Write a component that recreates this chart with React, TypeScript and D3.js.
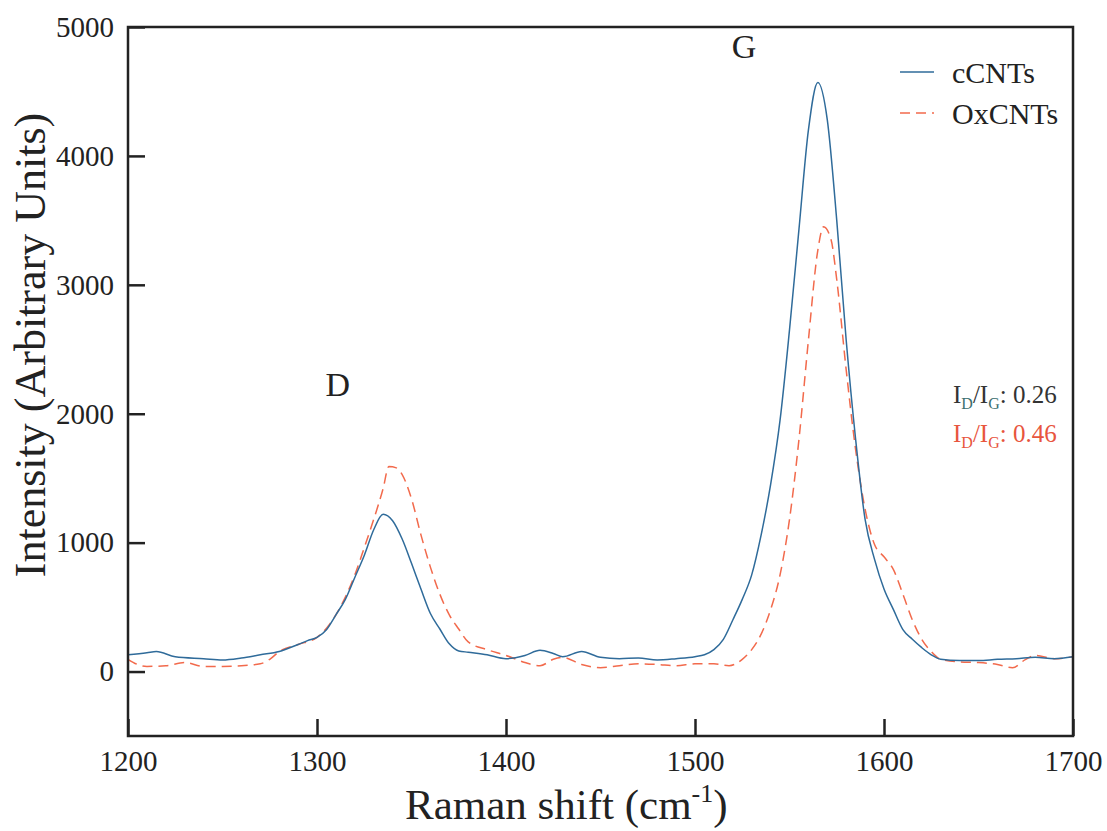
import React, { useEffect, useRef } from 'react';
import * as d3 from 'd3';

// Raman shift (cm-1) vs intensity
const cCNTsShift = [1200, 1210, 1215, 1225, 1240, 1250, 1260, 1270, 1280, 1290, 1295, 1300, 1305, 1310, 1315, 1320, 1325, 1330, 1335, 1340, 1345, 1350, 1355, 1360, 1365, 1370, 1375, 1380, 1390, 1400, 1410, 1418, 1425, 1430, 1440, 1450, 1460, 1470, 1480, 1490, 1500, 1505, 1510, 1515, 1520, 1525, 1530, 1535, 1540, 1545, 1550, 1555, 1560, 1565, 1570, 1575, 1580, 1585, 1590, 1595, 1600, 1605, 1610, 1615, 1620, 1625, 1630, 1640, 1650, 1660, 1670, 1680, 1690, 1700];
const cCNTsIntensity = [130, 145, 155, 115, 100, 90, 105, 130, 155, 210, 240, 265, 325, 440, 560, 730, 900, 1100, 1220, 1170, 1030, 840, 640, 450, 330, 215, 160, 150, 130, 100, 125, 165, 140, 115, 155, 110, 100, 105, 90, 100, 115, 130, 170, 250, 400, 560, 750, 1060, 1450, 1950, 2650, 3430, 4200, 4570, 4280, 3500, 2570, 1800, 1180, 870, 640, 480, 325, 250, 185, 130, 95, 85, 85, 95, 100, 110, 100, 115];

const oxShift = [1200, 1205, 1210, 1220, 1230, 1240, 1250, 1260, 1270, 1275, 1280, 1290, 1300, 1310, 1320, 1325, 1330, 1335, 1338, 1342, 1345, 1350, 1355, 1360, 1365, 1370, 1375, 1380, 1390, 1400, 1410, 1418, 1425, 1430, 1440, 1450, 1460, 1470, 1480, 1490, 1500, 1510, 1518, 1525, 1530, 1535, 1540, 1545, 1550, 1555, 1560, 1565, 1568, 1572, 1575, 1580, 1585, 1590, 1595, 1600, 1605, 1610, 1615, 1620, 1625, 1630, 1640, 1650, 1660, 1668, 1675, 1680, 1690, 1700];
const oxIntensity = [95, 55, 40, 45, 70, 40, 40, 45, 60, 95, 155, 210, 265, 440, 750, 960, 1180, 1420, 1590, 1580, 1530, 1340, 1060, 810, 600, 440, 330, 230, 170, 125, 70, 45, 95, 110, 55, 30, 45, 60, 55, 45, 60, 60, 45, 95, 170, 290, 480, 750, 1180, 1800, 2570, 3270, 3450, 3350, 3040, 2340, 1720, 1260, 985, 890, 790, 600, 400, 250, 155, 95, 75, 70, 55, 30, 95, 125, 100, 115];

const xTicks = [1200, 1300, 1400, 1500, 1600, 1700];
const yTicks = [0, 1000, 2000, 3000, 4000, 5000];

const W = 1107, H = 831;
const margin = { top: 27, right: 34, bottom: 95, left: 128 };
const font = '"Liberation Serif", "Times New Roman", serif';
const ink = '#222';
const blue = '#2f6b9a';
const red = '#f26a4c';

export default function App() {
  const ref = useRef<SVGSVGElement>(null);

  useEffect(() => {
    const svg = d3.select(ref.current);
    svg.selectAll('*').remove();
    const iw = W - margin.left - margin.right;
    const ih = H - margin.top - margin.bottom;

    const x = d3.scaleLinear().domain([1200, 1700]).range([0, iw]);
    const y = d3.scaleLinear().domain([-500, 5000]).range([ih, 0]);

    const g = svg.append('g').attr('transform', `translate(${margin.left},${margin.top})`);

    const line = d3.line<[number, number]>()
      .x(d => x(d[0]))
      .y(d => y(d[1]))
      .curve(d3.curveMonotoneX);

    g.append('path')
      .datum(oxShift.map((v, i) => [v, oxIntensity[i]] as [number, number]))
      .attr('fill', 'none')
      .attr('stroke', red)
      .attr('stroke-width', 1.5)
      .attr('stroke-dasharray', '10,6')
      .attr('d', line);

    g.append('path')
      .datum(cCNTsShift.map((v, i) => [v, cCNTsIntensity[i]] as [number, number]))
      .attr('fill', 'none')
      .attr('stroke', blue)
      .attr('stroke-width', 1.5)
      .attr('d', line);

    // frame
    g.append('rect')
      .attr('width', iw).attr('height', ih)
      .attr('fill', 'none').attr('stroke', ink).attr('stroke-width', 2.5);

    // x axis, ticks inside
    const xAxis = g.append('g').attr('transform', `translate(0,${ih})`).attr('font-family', font);
    xAxis.call(d3.axisBottom(x).tickValues(d3.range(1250, 1700, 100)).tickSize(-9).tickFormat(() => ''));
    xAxis.call(d3.axisBottom(x).tickValues(xTicks).tickSize(-17).tickPadding(14).tickFormat(d3.format('d')));
    xAxis.select('.domain').remove();
    xAxis.selectAll('line').attr('stroke', ink).attr('stroke-width', 2.5);
    xAxis.selectAll('text').attr('font-family', font).attr('font-size', 29).attr('fill', ink);

    const yAxis = g.append('g').attr('font-family', font);
    yAxis.call(d3.axisLeft(y).tickValues(d3.range(500, 5000, 1000)).tickSize(-9).tickFormat(() => ''));
    yAxis.call(d3.axisLeft(y).tickValues(yTicks).tickSize(-17).tickPadding(14).tickFormat(d3.format('d')));
    yAxis.select('.domain').remove();
    yAxis.selectAll('line').attr('stroke', ink).attr('stroke-width', 2.5);
    yAxis.selectAll('text').attr('font-family', font).attr('font-size', 29).attr('fill', ink);

    // axis titles
    const xt = svg.append('text')
      .attr('x', 405).attr('y', 819)
      .attr('font-family', font).attr('font-size', 43).attr('fill', ink);
    xt.append('tspan').text('Raman shift (cm');
    xt.append('tspan').attr('font-size', 26).attr('dy', -17).text('-1');
    xt.append('tspan').attr('dy', 17).text(')');

    svg.append('text')
      .attr('transform', `translate(45,345) rotate(-90)`)
      .attr('text-anchor', 'middle')
      .attr('font-family', font).attr('font-size', 44).attr('fill', ink)
      .text('Intensity (Arbitrary Units)');

    // peak labels
    g.append('text').attr('x', x(1526)).attr('y', y(4760))
      .attr('text-anchor', 'middle').attr('font-family', font).attr('font-size', 34).attr('fill', ink).text('G');
    g.append('text').attr('x', x(1311)).attr('y', y(2140))
      .attr('text-anchor', 'middle').attr('font-family', font).attr('font-size', 34).attr('fill', ink).text('D');

    // legend
    const legend = [
      { name: 'cCNTs', color: blue, dash: null },
      { name: 'OxCNTs', color: red, dash: '10,6' },
    ];
    legend.forEach((d, i) => {
      const ly = 45 + i * 41;
      g.append('line')
        .attr('x1', 772).attr('x2', 806).attr('y1', ly).attr('y2', ly)
        .attr('stroke', d.color).attr('stroke-width', 1.5)
        .attr('stroke-dasharray', d.dash);
      g.append('text').attr('x', 824).attr('y', ly + 11)
        .attr('font-family', font).attr('font-size', 30).attr('fill', ink).text(d.name);
    });

    // ratio annotations
    const ratios = [
      { value: '0.26', color: '#333', sub: '#3b6f70' },
      { value: '0.46', color: '#e8553d', sub: '#e8553d' },
    ];
    ratios.forEach((r, i) => {
      const t = g.append('text').attr('x', 825).attr('y', 376 + i * 39)
        .attr('font-family', font).attr('font-size', 25).attr('fill', r.color);
      t.append('tspan').text('I');
      t.append('tspan').attr('font-size', 16).attr('dy', 6).attr('fill', r.sub).text('D');
      t.append('tspan').attr('dy', -6).text('/I');
      t.append('tspan').attr('font-size', 16).attr('dy', 6).attr('fill', r.sub).text('G');
      t.append('tspan').attr('dy', -6).text(': ' + r.value);
    });
  }, []);

  return (
    <svg
      ref={ref}
      width={W}
      height={H}
      style={{ display: 'block', position: 'absolute', left: 0, top: 0, background: '#fff' }}
    />
  );
}
